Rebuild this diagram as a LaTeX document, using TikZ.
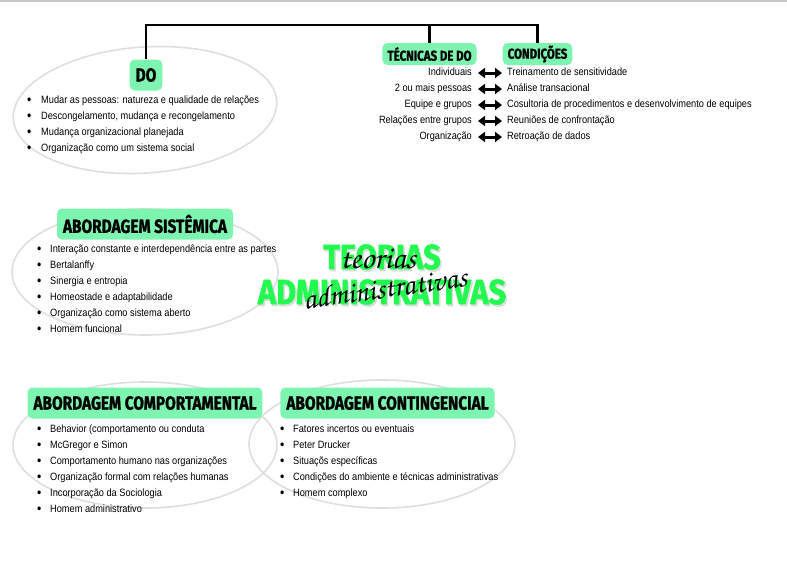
\documentclass[tikz,border=0pt]{standalone}
\usepackage{fontspec}
\usetikzlibrary{arrows.meta}
\setmainfont{Liberation Sans}[FakeStretch=0.87]
\newfontfamily\headfont{Fira Sans}[FakeStretch=0.81, BoldFeatures={FakeBold=1.2}]
\newfontfamily\titlefont{Fira Sans}[FakeStretch=0.88, BoldFeatures={FakeBold=1.5}]
\newfontfamily\handfont{texgyrechorus-mediumitalic.otf}
\definecolor{mint}{HTML}{7DF5B0}
\definecolor{neon}{HTML}{22FA50}
\newcommand{\bulletmark}[1]{\makebox[#1][l]{\raisebox{-0.6pt}{\fontsize{14}{14}\selectfont\textbullet}}}
\tikzset{
  tag/.style={fill=mint, rounded corners=5pt, inner xsep=6pt, inner ysep=0pt, minimum height=31pt,
    font=\headfont\bfseries\fontsize{19}{19}\selectfont},
  smalltag/.style={tag, minimum height=22pt, inner xsep=5pt, font=\headfont\bfseries\fontsize{14.2}{14.2}\selectfont},
  item/.style={anchor=west, inner sep=0pt, text height=7.5pt, text depth=2.5pt, font=\fontsize{10.6}{12}\selectfont},
  halo/.style={draw=black!13, line width=1.6pt},
  link/.style={line width=2.6pt},
  twin/.style={{Triangle[length=7pt,width=10pt]}-{Triangle[length=7pt,width=10pt]}, line width=3pt, shorten <=6pt, shorten >=5pt},
  bigword/.style={inner sep=0pt, text=neon, font=\titlefont\bfseries\fontsize{35}{35}\selectfont},
  hand/.style={inner sep=0pt, font=\handfont\fontsize{32}{32}\selectfont}
}

\begin{document}
\begin{tikzpicture}[x=1pt,y=-1pt]
\useasboundingbox (0,0) rectangle (787,570);
\draw[black!22, line width=2pt] (0,1) -- (787,1);
% Soft rings behind the lists
\draw[halo, rotate around={4:(145,110)}] (145,110) ellipse [x radius=132, y radius=63];
\draw[halo] (145,272) ellipse [x radius=133, y radius=63];
\draw[halo] (145,445) ellipse [x radius=132, y radius=63];
\draw[halo] (382,444) ellipse [x radius=133, y radius=64];

\node[tag] (do) at (146,75) {DO};
\node[smalltag] (tecnicas) at (429.5,54) {TÉCNICAS DE DO};
\node[smalltag] (condicoes) at (537.5,54) {CONDIÇÕES};
\node[tag] (sistemica) at (145,224) {ABORDAGEM SISTÊMICA};
\node[tag] (comport) at (145,403) {ABORDAGEM COMPORTAMENTAL};
\node[tag] (conting) at (387.5,403) {ABORDAGEM CONTINGENCIAL};

\coordinate (bar) at (0,25);
\draw[link] (do.north) -- (do.north |- bar) -- (condicoes.north |- bar) -- (condicoes.north);
\draw[link] (tecnicas.north) -- (tecnicas.north |- bar);

% Techniques and conditions
\foreach \a/\b [count=\i] in {Individuais/Treinamento de sensitividade, 2 ou mais pessoas/Análise transacional, Equipe e grupos/Cosultoria de procedimentos e desenvolvimento de equipes, Relações entre grupos/Reuniões de confrontação, Organização/Retroação de dados} {
  \node[item, anchor=east] (tl\i) at (472,57+16*\i) {\a};
  \node[item] (tr\i) at (507,57+16*\i) {\b};
  \draw[twin] (tl\i) -- (tr\i);
}

\foreach \t [count=\i] in {Mudar as pessoas: natureza e qualidade de relações, {Descongelamento, mudança e recongelamento}, Mudança organizacional planejada, Organização como um sistema social}
  \node[item] (dolist\i) at (27,85+16*\i) {\bulletmark{14pt}\t};
\foreach \t [count=\i] in {Interação constante e interdependência entre as partes, Bertalanffy, Sinergia e entropia, Homeostade e adaptabilidade, Organização como sistema aberto, Homem funcional}
  \node[item] (sislist\i) at (37,234+16*\i) {\bulletmark{13pt}\t};
\foreach \t [count=\i] in {Behavior (comportamento ou conduta, McGregor e Simon, Comportamento humano nas organizações, Organização formal com relações humanas, Incorporação da Sociologia, Homem administrativo}
  \node[item] (comlist\i) at (37,414+16*\i) {\bulletmark{13pt}\t};
\foreach \t [count=\i] in {Fatores incertos ou eventuais, Peter Drucker, Situaçõs específicas, Condições do ambiente e técnicas administrativas, Homem complexo}
  \node[item] (conlist\i) at (280,414+16*\i) {\bulletmark{13pt}\t};

% Title
\node[bigword, text=black!25, opacity=0.5] (teoriasshade) at (383.5,259) {TEORIAS};
\node[bigword, text=black!25, opacity=0.5] (adminshade) at (383.5,294) {ADMINISTRATIVAS};
\node[bigword] (teorias) at (382,257) {TEORIAS};
\node[bigword] (admin) at (382,292) {ADMINISTRATIVAS};
\node[hand] (teoriashand) at (378,259) {teorias};
\node[hand, rotate=8, font=\handfont\fontsize{30}{30}\selectfont] (adminhand) at (385,288) {administrativas};
\end{tikzpicture}
\end{document}
